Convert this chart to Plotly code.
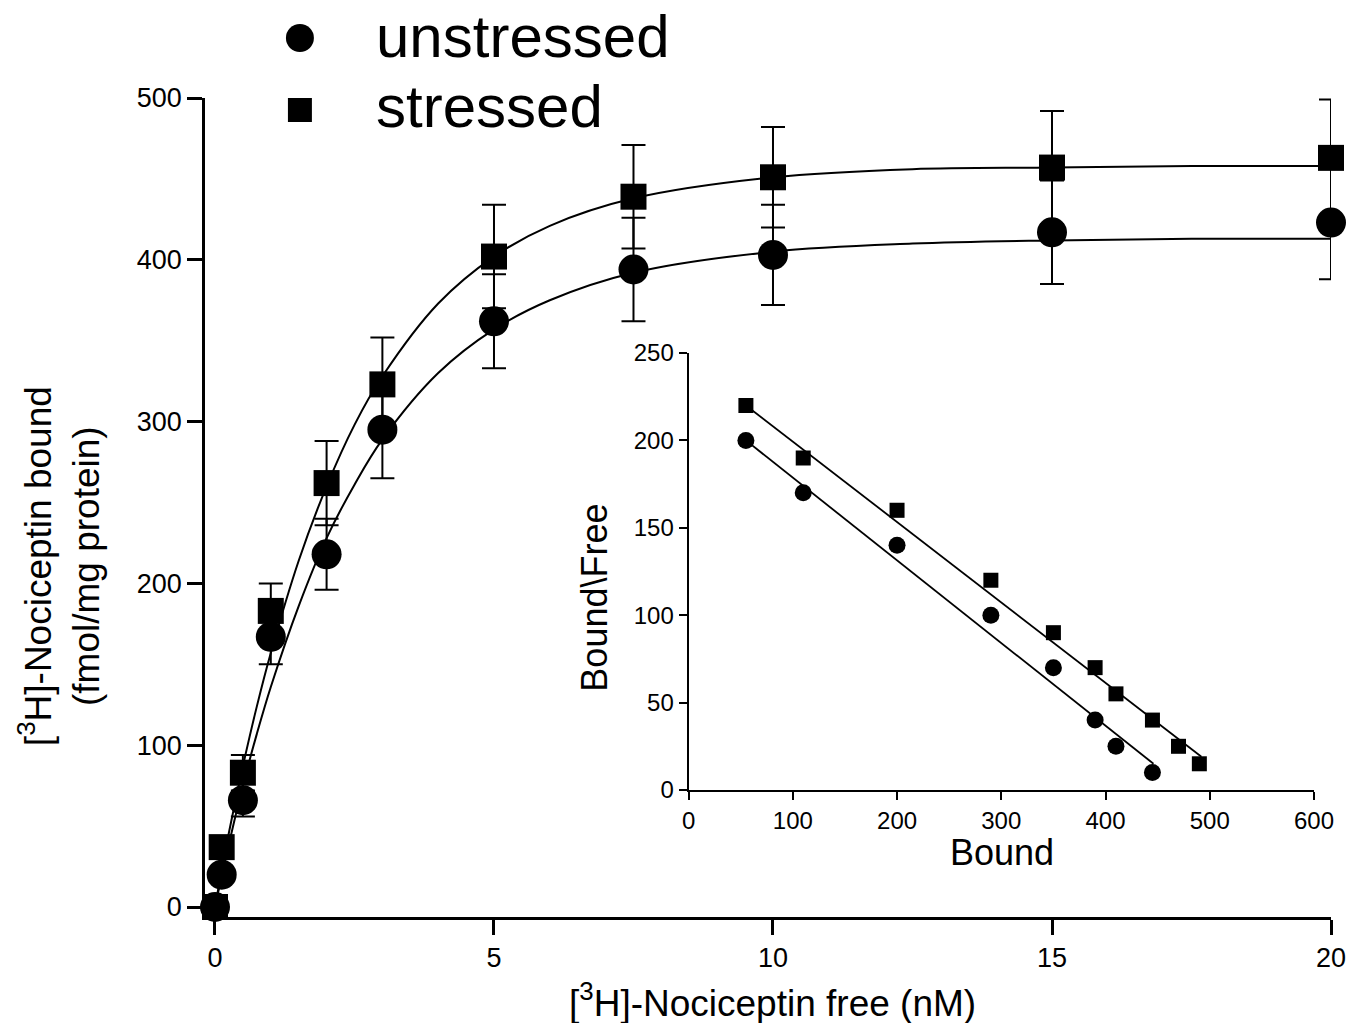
import plotly.graph_objects as go

# ---------------- data ----------------
free_nM = [0, 0.12, 0.5, 1, 2, 3, 5, 7.5, 10, 15, 20]
unstressed_bound = [0, 20, 66, 167, 218, 295, 362, 394, 403, 417, 423]
unstressed_sd = [0, 0, 10, 17, 22, 30, 29, 32, 31, 32, 35]

free_nM_s = [0, 0.12, 0.5, 1, 2, 3, 5, 7.5, 10, 15, 20]
stressed_bound = [0, 37, 83, 183, 262, 323, 402, 439, 451, 457, 463]
stressed_sd = [0, 0, 11, 17, 26, 29, 32, 32, 31, 35, 36]

# fitted saturation curves
fit_x = [0, 0.25, 0.5, 0.75, 1, 1.5, 2, 2.5, 3, 4, 5, 6, 7.5, 10, 12.5, 15, 17.5, 20]
fit_unstressed = [0, 39, 75, 107, 136, 186, 228, 261, 289, 330, 357, 375, 392, 405, 410, 412, 413, 413]
fit_stressed = [0, 46, 87, 124, 157, 214, 260, 298, 328, 373, 402, 421, 438, 451, 456, 457, 458, 458]

# Scatchard inset
sc_bound_u = [55, 110, 200, 290, 350, 390, 410, 445]
sc_bf_u = [200, 170, 140, 100, 70, 40, 25, 10]
sc_bound_s = [55, 110, 200, 290, 350, 390, 410, 445, 470, 490]
sc_bf_s = [220, 190, 160, 120, 90, 70, 55, 40, 25, 15]
sc_line_u_x = [55, 446]
sc_line_u_y = [200, 15]
sc_line_s_x = [55, 492]
sc_line_s_y = [220, 19]

main_xticks = [0, 5, 10, 15, 20]
main_yticks = [0, 100, 200, 300, 400, 500]
inset_xticks = [0, 100, 200, 300, 400, 500, 600]
inset_yticks = [0, 50, 100, 150, 200, 250]

FONT = "Liberation Sans, Arial, sans-serif"
XS = 0.9893  # observed horizontal scale of the captured page
W, H = round(1348 / XS), 1023
# plot area in screen pixels
SX0, SX1, SY0, SY1 = 203, 1330, 98, 917
L = SX0 / XS
R = W - SX1 / XS
T, B = SY0, H - SY1
PW, PH = W - L - R, H - T - B


def px(xs):
    return (xs / XS - L) / PW


def py(ys):
    return (H - B - ys) / PH


fig = go.Figure()

# main fit curves
fig.add_trace(go.Scatter(x=fit_x, y=fit_unstressed, mode="lines", line=dict(color="black", width=2, shape="spline"),
                         showlegend=False, hoverinfo="skip"))
fig.add_trace(go.Scatter(x=fit_x, y=fit_stressed, mode="lines", line=dict(color="black", width=2, shape="spline"),
                         showlegend=False, hoverinfo="skip"))

# main data
fig.add_trace(go.Scatter(x=free_nM_s, y=stressed_bound, mode="markers", name="stressed",
                         marker=dict(symbol="square", size=26, color="black"),
                         error_y=dict(type="data", array=stressed_sd, color="black", thickness=2, width=12),
                         showlegend=False, cliponaxis=False))
fig.add_trace(go.Scatter(x=free_nM, y=unstressed_bound, mode="markers", name="unstressed",
                         marker=dict(symbol="circle", size=30, color="black"),
                         error_y=dict(type="data", array=unstressed_sd, color="black", thickness=2, width=12),
                         showlegend=False, cliponaxis=False))

# inset lines and points
fig.add_trace(go.Scatter(x=sc_line_u_x, y=sc_line_u_y, mode="lines", line=dict(color="black", width=1.8),
                         xaxis="x2", yaxis="y2", showlegend=False, hoverinfo="skip"))
fig.add_trace(go.Scatter(x=sc_line_s_x, y=sc_line_s_y, mode="lines", line=dict(color="black", width=1.8),
                         xaxis="x2", yaxis="y2", showlegend=False, hoverinfo="skip"))
fig.add_trace(go.Scatter(x=sc_bound_u, y=sc_bf_u, mode="markers", marker=dict(symbol="circle", size=17, color="black"),
                         xaxis="x2", yaxis="y2", showlegend=False))
fig.add_trace(go.Scatter(x=sc_bound_s, y=sc_bf_s, mode="markers", marker=dict(symbol="square", size=15, color="black"),
                         xaxis="x2", yaxis="y2", showlegend=False))

axis_common = dict(showline=True, linecolor="black", showgrid=False, zeroline=False, ticks="outside",
                   tickcolor="black")

fig.update_layout(
    width=W, height=H,
    margin=dict(l=L, r=R, t=T, b=B),
    paper_bgcolor="white", plot_bgcolor="white",
    font=dict(family=FONT, color="black"),
    xaxis=dict(**axis_common, range=[-0.179, 20], tickvals=main_xticks, linewidth=2.5, tickwidth=2.5, ticklen=15,
               tickfont=dict(size=27, family=FONT), domain=[0, 1]),
    yaxis=dict(**axis_common, range=[-6.18, 500], tickvals=main_yticks, linewidth=2.5, tickwidth=2.5, ticklen=15,
               tickfont=dict(size=27, family=FONT), domain=[0, 1]),
    xaxis2=dict(**axis_common, range=[0, 600], tickvals=inset_xticks, linewidth=2, tickwidth=2, ticklen=8,
                tickfont=dict(size=24, family=FONT), domain=[px(687), px(1313)], anchor="y2"),
    yaxis2=dict(**axis_common, range=[0, 250], tickvals=inset_yticks, linewidth=2, tickwidth=2, ticklen=8,
                tickfont=dict(size=24, family=FONT), domain=[py(790), py(353)], anchor="x2"),
)

annotations = [
    dict(text="[<sup>3</sup>H]-Nociceptin free (nM)", x=px(771), y=py(1000), xref="paper", yref="paper",
         showarrow=False, font=dict(size=37, family=FONT), xanchor="center", yanchor="middle"),
    dict(text="[<sup>3</sup>H]-Nociceptin bound<br>(fmol/mg protein)", x=px(57), y=py(566), xref="paper",
         yref="paper", showarrow=False, font=dict(size=37, family=FONT), textangle=-90,
         xanchor="center", yanchor="middle"),
    dict(text="Bound", x=px(1001), y=py(852), xref="paper", yref="paper", showarrow=False,
         font=dict(size=36, family=FONT), xanchor="center", yanchor="middle"),
    dict(text="Bound\\Free", x=px(592), y=py(598), xref="paper", yref="paper", showarrow=False,
         font=dict(size=36, family=FONT), textangle=-90, xanchor="center", yanchor="middle"),
    dict(text="unstressed", x=px(372), y=py(36), xref="paper", yref="paper", showarrow=False,
         font=dict(size=60, family=FONT), xanchor="left", yanchor="middle"),
    dict(text="stressed", x=px(372), y=py(107), xref="paper", yref="paper", showarrow=False,
         font=dict(size=60, family=FONT), xanchor="left", yanchor="middle"),
]
fig.update_layout(annotations=annotations)

shapes = [
    dict(type="circle", xref="paper", yref="paper", x0=px(284), x1=px(312), y0=py(52), y1=py(24),
         fillcolor="black", line=dict(color="black", width=0)),
    dict(type="rect", xref="paper", yref="paper", x0=px(286), x1=px(310), y0=py(122), y1=py(98),
         fillcolor="black", line=dict(color="black", width=0)),
]
fig.update_layout(shapes=shapes)

fig.write_html("out.html", config={"displayModeBar": False},
               post_script="document.body.style.margin='0px';document.body.style.overflow='hidden';")
